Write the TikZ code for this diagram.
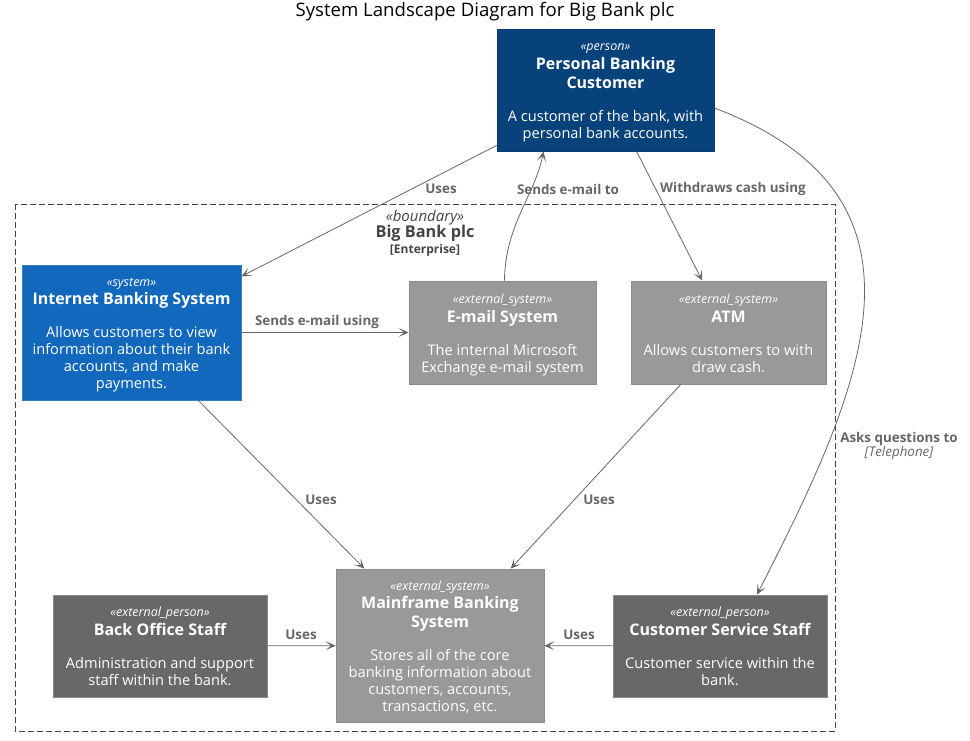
\documentclass[tikz,border=0pt]{standalone}
\usepackage{fontspec}
\setmainfont{Open Sans}
\usetikzlibrary{arrows.meta,calc}
\definecolor{personC}{HTML}{08427B}
\definecolor{personB}{HTML}{073B6F}
\definecolor{systemC}{HTML}{1168BD}
\definecolor{systemB}{HTML}{3C7FC0}
\definecolor{extsysC}{HTML}{999999}
\definecolor{extperC}{HTML}{686868}
\definecolor{extB}{HTML}{8A8A8A}
\definecolor{lineC}{HTML}{666666}
\definecolor{bndC}{HTML}{444444}
\newcommand{\stt}[1]{\rule{0pt}{14pt}{\fontsize{12.5}{13}\selectfont\itshape #1}}
\newcommand{\nmm}[1]{{\fontsize{16}{19}\selectfont\bfseries #1}}
\newcommand{\lst}{\rule[-4pt]{0pt}{4pt}}
\tikzset{
  box/.style={draw, line width=0.8pt, text=white, align=center, inner sep=0pt,
    font=\fontsize{14.6}{17}\selectfont},
  rel/.style={draw=lineC, line width=0.8pt, -{Stealth[length=10pt,width=9pt,inset=5.5pt]}},
  lbl/.style={text=lineC, font=\fontsize{13.4}{15}\selectfont\bfseries, inner sep=0pt, align=center},
}
\begin{document}
\begin{tikzpicture}[x=1pt,y=-1pt]
\path[use as bounding box] (0,0) rectangle (970,741);
\node[font=\fontsize{18.6}{20}\selectfont] (title) at (485,12) {System Landscape Diagram for Big Bank plc};

% boundary
\draw[bndC, line width=0.7pt, dash pattern=on 6pt off 3pt] (15,204) rectangle (835,731);
\node[text=bndC, align=center, inner sep=0pt, font=\fontsize{12}{16.5}\selectfont] (blabel) at (425,233)
  {{\fontsize{15}{16}\selectfont\itshape «boundary»}\\
   {\fontsize{16.3}{16}\selectfont\bfseries Big Bank plc}\\[-0.5pt]
   {\bfseries [Enterprise]}};

% nodes
\node[box, fill=personC, draw=personB, minimum width=217pt, minimum height=122pt] (person) at (605.5,90)
  {\stt{«person»}\\[2pt]\nmm{Personal Banking}\\[2pt]\nmm{Customer}\\[16pt]A customer of the bank, with\\personal bank accounts.\lst};
\node[box, fill=systemC, draw=systemB, minimum width=219pt, minimum height=135pt] (ibs) at (131.5,332.5)
  {\stt{«system»}\\[1pt]\nmm{Internet Banking System}\\[16pt]Allows customers to view\\information about their bank\\accounts, and make\\payments.\lst};
\node[box, fill=extsysC, draw=extB, minimum width=187pt, minimum height=103pt] (email) at (502.5,332.5)
  {\stt{«external\_system»}\\[2pt]\nmm{E-mail System}\\[16pt]The internal Microsoft\\Exchange e-mail system\lst};
\node[box, fill=extsysC, draw=extB, minimum width=195pt, minimum height=103pt] (atm) at (728.5,332.5)
  {\stt{«external\_system»}\\[2pt]\nmm{ATM}\\[16pt]Allows customers to with\\draw cash.\lst};
\node[box, fill=extsysC, draw=extB, minimum width=208pt, minimum height=153pt] (mainframe) at (440,645.5)
  {\stt{«external\_system»}\\[1pt]\nmm{Mainframe Banking}\\[2pt]\nmm{System}\\[16pt]Stores all of the core\\banking information about\\customers, accounts,\\transactions, etc.\lst};
\node[box, fill=extperC, draw=extB, minimum width=214pt, minimum height=102pt] (backoffice) at (160,646)
  {\stt{«external\_person»}\\[2pt]\nmm{Back Office Staff}\\[16pt]Administration and support\\staff within the bank.\lst};
\node[box, fill=extperC, draw=extB, minimum width=214pt, minimum height=102pt] (css) at (720,646)
  {\stt{«external\_person»}\\[2pt]\nmm{Customer Service Staff}\\[16pt]Customer service within the\\bank.\lst};

% connectors
\coordinate (pSend) at ($(person.south)+(-62,0)$);
\coordinate (pAsk) at ($(person.east)+(0,18)$);
\coordinate (cAsk) at ($(css.north)+(37,0)$);
\coordinate (eUp) at ($(email.north)+(2,0)$);
\draw[rel] (person) -- (ibs);
\draw[rel] (eUp) .. controls (505,225) and (535,195) .. (pSend);
\draw[rel] (person) -- (atm);
\draw[rel] (pAsk) .. controls (950,197) and (863,387) .. (cAsk);
\draw[rel] (ibs) -- (email);
\draw[rel] (ibs) -- (mainframe);
\draw[rel] (atm) -- (mainframe);
\draw[rel] (backoffice) -- (mainframe);
\draw[rel] (css) -- (mainframe);

% labels
\node[lbl] (l1) at (441,189) {Uses};
\node[lbl] (l2) at (568,189) {Sends e-mail to};
\node[lbl] (l3) at (733,189) {Withdraws cash using};
\node[lbl] (l4) at (899,446) {Asks questions to\\[-1pt]{\mdseries\itshape [Telephone]}};
\node[lbl] (l5) at (317,322) {Sends e-mail using};
\node[lbl] (l6) at (321,500) {Uses};
\node[lbl] (l7) at (599,500) {Uses};
\node[lbl] (l8) at (301,635) {Uses};
\node[lbl] (l9) at (579,635) {Uses};
\end{tikzpicture}
\end{document}
